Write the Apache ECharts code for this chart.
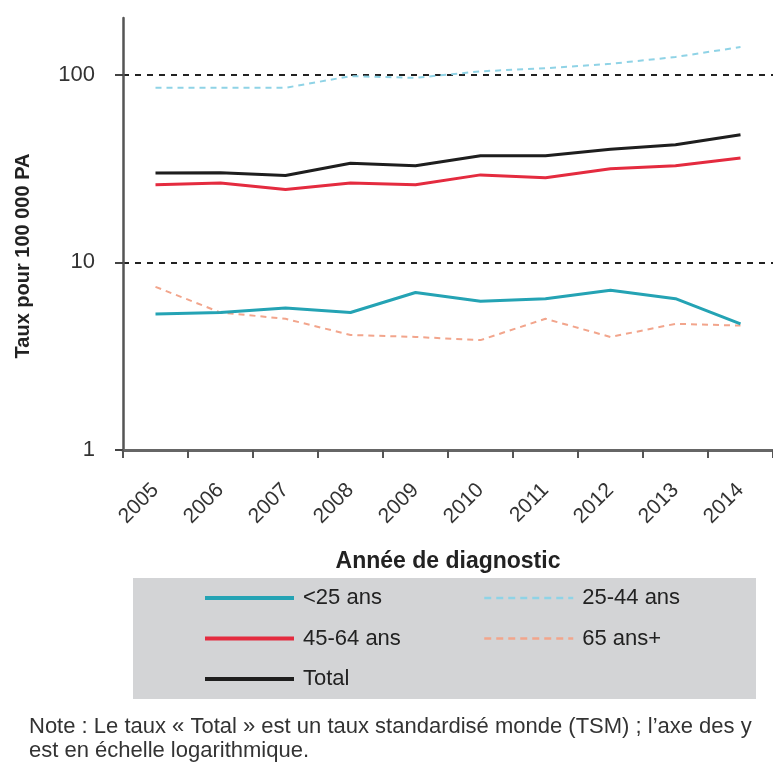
<!DOCTYPE html>
<html>
<head>
<meta charset="utf-8">
<script src="https://cdn.jsdelivr.net/npm/echarts@6/dist/echarts.min.js"></script>
<style>
  html, body { margin: 0; padding: 0; background: #fff; }
  #chart { width: 773px; height: 767px; }
</style>
</head>
<body>
<div id="chart"></div>
<script>
const years = ['2005', '2006', '2007', '2008', '2009', '2010', '2011', '2012', '2013', '2014']
const under25 = [5.3, 5.4, 5.7, 5.4, 6.9, 6.2, 6.4, 7.1, 6.4, 4.7]
const age25to44 = [85, 85, 85, 98, 96, 104, 108, 114, 124, 140]
const age45to64 = [25.9, 26.4, 24.4, 26.4, 25.9, 29.2, 28.2, 31.5, 32.7, 35.9]
const age65plus = [7.4, 5.4, 5.0, 4.1, 4.0, 3.85, 5.0, 4.0, 4.7, 4.6]
const total = [29.9, 30, 29, 33.7, 32.7, 36.9, 36.9, 40, 42.3, 47.8]
const yTicks = [1, 10, 100]

const FONT = "'Liberation Sans', Arial, sans-serif"

const myChart = echarts.init(document.getElementById('chart'))

function lineSeries(name, data, color, dashed) {
  return {
    name: name,
    type: 'line',
    data: data,
    symbol: 'none',
    z: dashed ? 3 : 4,
    lineStyle: {
      color: color,
      width: dashed ? 2 : 3,
      type: dashed ? [6, 5] : 'solid',
    },
    itemStyle: { color: color },
  }
}

// legende commune aux deux colonnes
const legendBase = {
  orient: 'vertical',
  top: 581,
  itemWidth: 89,
  itemHeight: 12,
  itemGap: 16.5,
  itemStyle: { opacity: 0 },
  textStyle: { fontSize: 22, lineHeight: 24, color: '#222', fontFamily: FONT, padding: [0, 0, 0, 4] },
}

myChart.setOption({
  animation: false,
  textStyle: { fontFamily: FONT },
  grid: {
    left: 123,
    right: -6,
    top: 18,
    bottom: 317,
    containLabel: false,
  },
  graphic: [
    {
      type: 'rect',
      left: 133,
      top: 578,
      shape: { width: 623, height: 121 },
      style: { fill: '#d3d4d6' },
      z: -1,
    },
    {
      type: 'text',
      left: 29,
      top: 715,
      style: {
        text: 'Note : Le taux « Total » est un taux standardisé monde (TSM) ; l\u2019axe des y\nest en échelle logarithmique.',
        font: '22px ' + FONT,
        fill: '#333',
        lineHeight: 24,
      },
    },
  ],
  legend: [
    Object.assign({}, legendBase, {
      left: 198,
      lineStyle: { width: 4 },
      data: ['<25 ans', '45-64 ans', 'Total'],
    }),
    Object.assign({}, legendBase, {
      left: 478,
      lineStyle: { width: 2.5, type: [7, 5] },
      data: ['25-44 ans', '65 ans+'],
    }),
  ],
  xAxis: {
    type: 'category',
    data: years,
    name: 'Année de diagnostic',
    nameLocation: 'middle',
    nameGap: 100,
    nameTextStyle: { fontSize: 23, fontWeight: 'bold', color: '#222', fontFamily: FONT },
    axisLine: { lineStyle: { color: '#666', width: 3 } },
    axisTick: { show: true, length: 8, lineStyle: { color: '#555', width: 2 } },
    axisLabel: {
      rotate: 45,
      fontSize: 21,
      color: '#333',
      margin: 37,
      fontFamily: FONT,
    },
    splitLine: { show: false },
  },
  yAxis: {
    type: 'log',
    logBase: 10,
    min: 1,
    max: 200,
    name: 'Taux pour 100 000 PA',
    nameLocation: 'middle',
    nameGap: 90,
    nameTextStyle: {
      fontSize: 20,
      fontWeight: 'bold',
      color: '#222',
      fontFamily: FONT,
      padding: [0, 44, 0, 0],
    },
    axisLine: { show: true, lineStyle: { color: '#555', width: 2.5 } },
    axisTick: { show: true, length: 8, customValues: yTicks, lineStyle: { color: '#444', width: 2 } },
    axisLabel: {
      customValues: yTicks,
      fontSize: 22,
      color: '#333',
      margin: 28,
      fontFamily: FONT,
    },
    splitLine: {
      show: true,
      lineStyle: { color: '#222', width: 2, type: [6, 6] },
    },
  },
  series: [
    lineSeries('<25 ans', under25, '#24a3b4', false),
    lineSeries('25-44 ans', age25to44, '#8fd3e6', true),
    lineSeries('45-64 ans', age45to64, '#e42b3f', false),
    lineSeries('65 ans+', age65plus, '#f2a58c', true),
    lineSeries('Total', total, '#1e1e1e', false),
  ],
})
window.addEventListener('resize', () => {
  myChart.resize()
})
</script>
</body>
</html>
